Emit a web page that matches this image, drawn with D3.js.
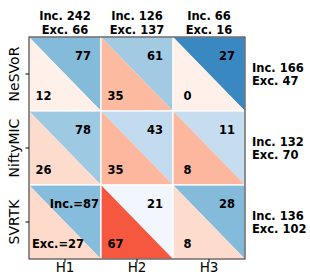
<!DOCTYPE html>
<html><head><meta charset="utf-8">
<script src="https://cdn.jsdelivr.net/npm/d3@7"></script>
<style>body{margin:0;background:#fff}svg{display:block;font-family:"DejaVu Sans",sans-serif}</style>
</head><body><svg id="c" width="310" height="276"></svg>
<script>
const methods = ["NeSVoR", "NiftyMIC", "SVRTK"];
const hospitals = ["H1", "H2", "H3"];
const included = [[77, 61, 27], [78, 43, 11], [87, 21, 28]];
const excluded = [[12, 35, 0], [26, 35, 8], [27, 67, 8]];
const colInc = [242, 126, 66];
const colExc = [66, 137, 16];
const rowInc = [166, 132, 136];
const rowExc = [47, 70, 102];
// colour intensity (0..1 on the sequential maps)
const blueLevel = [[0.44, 0.36, 0.66], [0.37, 0.25, 0.24], [0.43, 0.03, 0.44]];
const redLevel = [[0.03, 0.25, 0.03], [0.13, 0.26, 0.26], [0.14, 0.55, 0.13]];

const svg = d3.select("#c");
const L = 29, R = 245, T = 37, B = 259;
const x = d3.scaleBand().domain(hospitals).range([L, R]);
const y = d3.scaleBand().domain(methods).range([T, B]);
const blues = d3.scaleSequential(d3.interpolateBlues).domain([0, 1]);
const reds = d3.scaleSequential(d3.interpolateReds).domain([0, 1]);
const w = x.bandwidth(), h = y.bandwidth();

const cells = [];
methods.forEach((m, i) => hospitals.forEach((hh, j) => cells.push({m, hh, i, j})));

const g = svg.append("g");
cells.forEach(c => {
  const x0 = x(c.hh), y0 = y(c.m);
  g.append("path").attr("d", `M${x0},${y0}L${x0+w},${y0}L${x0+w},${y0+h}Z`)
    .attr("fill", blues(blueLevel[c.i][c.j]));
  g.append("path").attr("d", `M${x0},${y0}L${x0},${y0+h}L${x0+w},${y0+h}Z`)
    .attr("fill", reds(redLevel[c.i][c.j]));
  g.append("rect").attr("x", x0).attr("y", y0).attr("width", w).attr("height", h)
    .attr("fill", "none").attr("stroke", "#fff").attr("stroke-width", 1.2);
  const first = c.i === 2 && c.j === 0;
  g.append("text")
    .attr("x", first ? x0 + w - 2 : x0 + 0.75 * w).attr("y", y0 + 0.25 * h)
    .attr("text-anchor", first ? "end" : "middle").attr("dominant-baseline", "central")
    .attr("font-weight", "bold").attr("font-size", 11.5)
    .text(first ? "Inc.=" + included[c.i][c.j] : included[c.i][c.j]);
  g.append("text")
    .attr("x", first ? x0 + 3 : x0 + 0.2 * w).attr("y", y0 + 0.8 * h)
    .attr("text-anchor", first ? "start" : "middle").attr("dominant-baseline", "central")
    .attr("font-weight", "bold").attr("font-size", 11.5)
    .text(first ? "Exc.=" + excluded[c.i][c.j] : excluded[c.i][c.j]);
});

svg.append("rect").attr("x", L).attr("y", T).attr("width", R - L).attr("height", B - T)
  .attr("fill", "none").attr("stroke", "#222").attr("stroke-width", 1);

// axes
const ax = svg.append("g").attr("transform", `translate(0,${B})`)
  .call(d3.axisBottom(x).tickSize(3.5).tickPadding(2));
ax.select(".domain").remove();
ax.selectAll("text").attr("font-size", 13.5).attr("font-family", "DejaVu Sans").attr("dy", "0.59em");
const ay = svg.append("g").attr("transform", `translate(${L},0)`)
  .call(d3.axisLeft(y).tickSize(3.5).tickFormat(""));
ay.select(".domain").remove();
methods.forEach(m => {
  svg.append("text").attr("transform", `translate(19,${y(m) + h / 2}) rotate(-90)`)
    .attr("text-anchor", "middle").attr("font-size", 14).text(m);
});

// column headers
hospitals.forEach((hh, j) => {
  svg.append("text").attr("x", x(hh) + w / 2).attr("y", 20).attr("text-anchor", "middle")
    .attr("font-weight", "bold").attr("font-size", 11.5).text("Inc. " + colInc[j]);
  svg.append("text").attr("x", x(hh) + w / 2).attr("y", 33.5).attr("text-anchor", "middle")
    .attr("font-weight", "bold").attr("font-size", 11.5).text("Exc. " + colExc[j]);
});
// row labels
methods.forEach((m, i) => {
  const cy = y(m) + h / 2;
  svg.append("text").attr("x", 252).attr("y", cy - 2.5)
    .attr("font-weight", "bold").attr("font-size", 11.5).text("Inc. " + rowInc[i]);
  svg.append("text").attr("x", 252).attr("y", cy + 10.5)
    .attr("font-weight", "bold").attr("font-size", 11.5).text("Exc. " + rowExc[i]);
});
</script></body></html>
